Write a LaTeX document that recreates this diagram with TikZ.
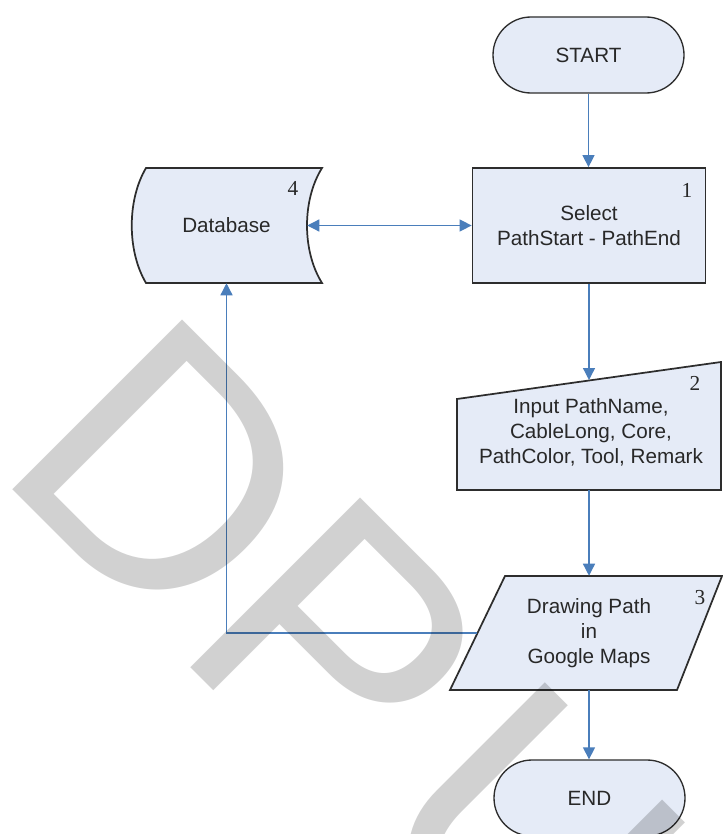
\documentclass[tikz,border=0pt]{standalone}
\usepackage{fontspec}
\setmainfont{Liberation Sans}
\newfontfamily\numfont{Liberation Serif}
\newfontfamily\wmfamily{Liberation Sans}
\usetikzlibrary{arrows.meta,calc}
\definecolor{boxfill}{RGB}{229,235,247}
\definecolor{edgec}{RGB}{45,45,45}
\definecolor{flow}{RGB}{74,126,187}
\definecolor{labelc}{RGB}{40,40,40}
\tikzset{
  shapefill/.style={fill=boxfill, draw=edgec, line width=1.3pt, line join=miter},
  lbl/.style={font=\fontsize{15.5pt}{18.75pt}\selectfont, text=labelc, align=center, inner sep=0pt},
  num/.style={font=\numfont\fontsize{16pt}{18pt}\selectfont, text=labelc, inner sep=0pt},
  term/.style={lbl, fill=boxfill, draw=edgec, line width=1pt, rounded corners=28.5pt,
    minimum width=143.25pt, minimum height=57pt},
  flowline/.style={draw=flow, line width=1pt, -{Triangle[length=9pt,width=9pt]}},
  wm/.style={font=\wmfamily\fontsize{261.75pt}{262pt}\selectfont, text=black,
    text opacity=0.18, inner sep=0pt, anchor=base west},
}
\begin{document}
\begin{tikzpicture}[x=0.75pt,y=-0.75pt]
\useasboundingbox (0,0) rectangle (723,834);
\fill[white] (0,0) rectangle (723,834);
\clip (0,0) rectangle (723,834);

% terminals
\node[term] (start) at (588.5,55) {START};
\node[term] (end) at (589.5,798) {END};

% process: select path ends
\node[lbl, shapefill, minimum width=174.75pt, minimum height=86.25pt] (select) at (589,225.5)
  {Select\\PathStart - PathEnd};
\node[num] (n1) at (687,190) {1};

% stored data
\path[shapefill] (146,168) -- (322,168) .. controls (302,200) and (302,251) .. (322,283)
  -- (146,283) .. controls (127,251) and (127,200) .. (146,168) -- cycle;
\node[lbl, minimum width=120.75pt, minimum height=86.25pt] (db) at (226.5,225.5) {Database};
\node[num] (n4) at (293,188) {4};

% manual input
\path[shapefill] (457,399) -- (721,362) -- (721,490) -- (457,490) -- cycle;
\node[lbl, minimum width=198pt, minimum height=87pt] (inp) at (591,432)
  {Input PathName,\\CableLong, Core,\\PathColor, Tool, Remark};
\coordinate (inptop) at (589,380);
\node[num] (n2) at (695,383) {2};

% data output
\path[shapefill] (505,576) -- (722,576) -- (677,690) -- (450,690) -- cycle;
\node[lbl, minimum width=167.25pt, minimum height=85.5pt] (mapdraw) at (589,633)
  {Drawing Path\\in\\Google Maps};
\node[num] (n3) at (700,598) {3};

% connectors
\draw[flowline] (start.south) -- (start.south |- select.north);
\draw[flowline] (select.south) -- (inptop);
\draw[flowline] (mapdraw.north |- inp.south) -- (mapdraw.north);
\draw[flowline] (mapdraw.south) -- (mapdraw.south |- end.north);
\draw[flowline] (mapdraw.west) -| (db.south);
\draw[flowline, {Triangle[length=9pt,width=9pt]}-{Triangle[length=9pt,width=9pt]}]
  (db.east) -- (select.west);

% watermark letters
\begin{scope}[shift={(-7.5,469.5)}, rotate=-45, transform shape]
  \node[wm] (wmd) at (0,0) {D};
  \node[wm] (wmp) at (252,0) {P};
  \node[wm] (wmu) at (515,0) {U};
\end{scope}
\end{tikzpicture}
\end{document}
